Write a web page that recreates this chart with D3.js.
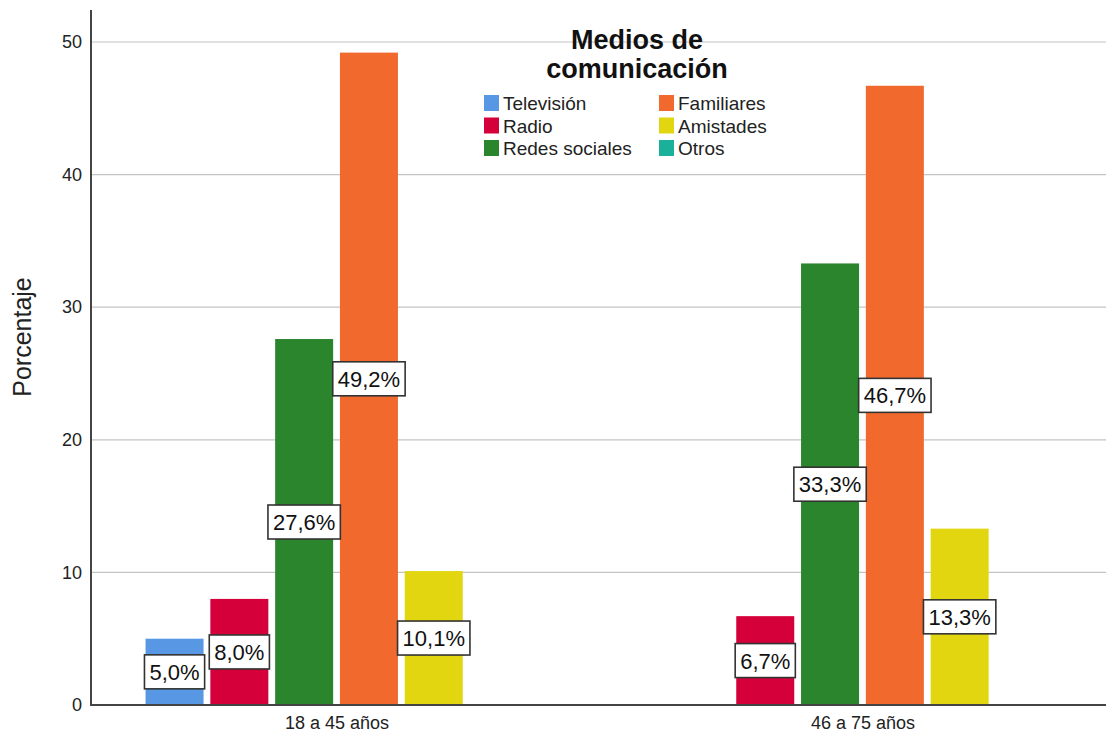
<!DOCTYPE html>
<html><head><meta charset="utf-8">
<script src="https://cdn.jsdelivr.net/npm/d3@7"></script>
<style>body{margin:0;background:#fff}svg{display:block}text{font-family:"Liberation Sans",Arial,sans-serif}</style>
</head><body>
<svg id="c" width="1106" height="734"></svg>
<script>
const groups = ["18 a 45 años", "46 a 75 años"];
const seriesNames = ["Televisión", "Radio", "Redes sociales", "Familiares", "Amistades", "Otros"];
const seriesColors = ["#5797e3", "#d5003a", "#2a852c", "#f2692d", "#e2d611", "#1ab09a"];
const values18a45 = [5.0, 8.0, 27.6, 49.2, 10.1, 0];
const values46a75 = [0, 6.7, 33.3, 46.7, 13.3, 0];
const yTicks = [0, 10, 20, 30, 40, 50];
const legendTitle = ["Medios de", "comunicación"];
const yTitle = "Porcentaje";

(function() {
const allValues = [values18a45, values46a75];
const svg = d3.select("#c");
const pLeft = 91, pRight = 1106, pBottom = 705, pTop = 42;

const y = d3.scaleLinear().domain([0, 50]).range([pBottom, pTop]);
const x0 = d3.scalePoint().domain(groups).range([pLeft + 1, pRight + 1]).padding(0.465);
const x1 = d3.scaleBand().domain(seriesNames).range([-191, 191]).paddingInner(0.105).paddingOuter(0);

// gridlines
svg.append("g").selectAll("line").data(yTicks.filter(t => t > 0)).join("line")
  .attr("x1", pLeft).attr("x2", pRight).attr("y1", d => y(d)).attr("y2", d => y(d))
  .attr("stroke", "#c4c4c4").attr("stroke-width", 1.2);

// y axis labels
const yAxis = d3.axisLeft(y).tickValues(yTicks).tickSize(0).tickPadding(9).tickFormat(d3.format("d"));
const ya = svg.append("g").attr("transform", `translate(${pLeft},0)`).call(yAxis);
ya.select(".domain").remove();
ya.selectAll("text").attr("font-size", 18).attr("fill", "#222").style("font-family", '"Liberation Sans",Arial,sans-serif');

// bars
const data = [];
groups.forEach((g, gi) => seriesNames.forEach((s, si) => data.push({g, s, si, v: allValues[gi][si]})));
const bars = data.filter(d => d.v > 0);
svg.append("g").selectAll("rect").data(bars).join("rect")
  .attr("x", d => x0(d.g) + x1(d.s))
  .attr("width", x1.bandwidth())
  .attr("y", d => y(d.v))
  .attr("height", d => y(0) - y(d.v))
  .attr("fill", d => seriesColors[d.si]);

// axis lines
svg.append("line").attr("x1", pLeft).attr("x2", pLeft).attr("y1", 10).attr("y2", pBottom + 1)
  .attr("stroke", "#444").attr("stroke-width", 2);
const xAxis = d3.axisBottom(x0).tickSize(0).tickPadding(11);
const xa = svg.append("g").attr("transform", `translate(0,${pBottom})`).call(xAxis);
xa.select(".domain").attr("d", `M${pLeft},0H${pRight}`).attr("stroke", "#444").attr("stroke-width", 2);
xa.selectAll("text").attr("font-size", 18).attr("fill", "#222").style("font-family", '"Liberation Sans",Arial,sans-serif');

// value labels
const lg = svg.append("g").selectAll("g").data(bars).join("g")
  .attr("transform", d => `translate(${x0(d.g) + x1(d.s) + x1.bandwidth() / 2},${(y(d.v) + y(0)) / 2})`);
lg.append("rect");
lg.append("text").attr("text-anchor", "middle").attr("dy", "0.36em").attr("font-size", 22).attr("fill", "#111")
  .text(d => d3.format(".1f")(d.v).replace(".", ",") + "%");
lg.each(function() {
  const g = d3.select(this);
  const bb = g.select("text").node().getBBox();
  g.select("rect").attr("x", bb.x - 5).attr("y", -17).attr("width", bb.width + 10).attr("height", 34)
    .attr("fill", "#fff").attr("stroke", "#333").attr("stroke-width", 1.6);
});

// y title
svg.append("text").attr("transform", "translate(31,337) rotate(-90)").attr("text-anchor", "middle")
  .attr("font-size", 25).attr("fill", "#222").text(yTitle);

// legend
svg.append("g").selectAll("text").data(legendTitle).join("text")
  .attr("x", 637).attr("y", (d, i) => 49 + i * 29).attr("text-anchor", "middle")
  .attr("font-size", 27).attr("font-weight", "bold").attr("fill", "#111").text(d => d);
const le = svg.append("g").selectAll("g").data(seriesNames).join("g")
  .attr("transform", (d, i) => `translate(${i < 3 ? 484 : 659},${95 + (i % 3) * 22.5})`);
le.append("rect").attr("width", 15).attr("height", 16).attr("fill", (d, i) => seriesColors[i]);
le.append("text").attr("x", 19).attr("y", 15).attr("font-size", 19).attr("fill", "#222").text(d => d);
})();
</script>
</body></html>
